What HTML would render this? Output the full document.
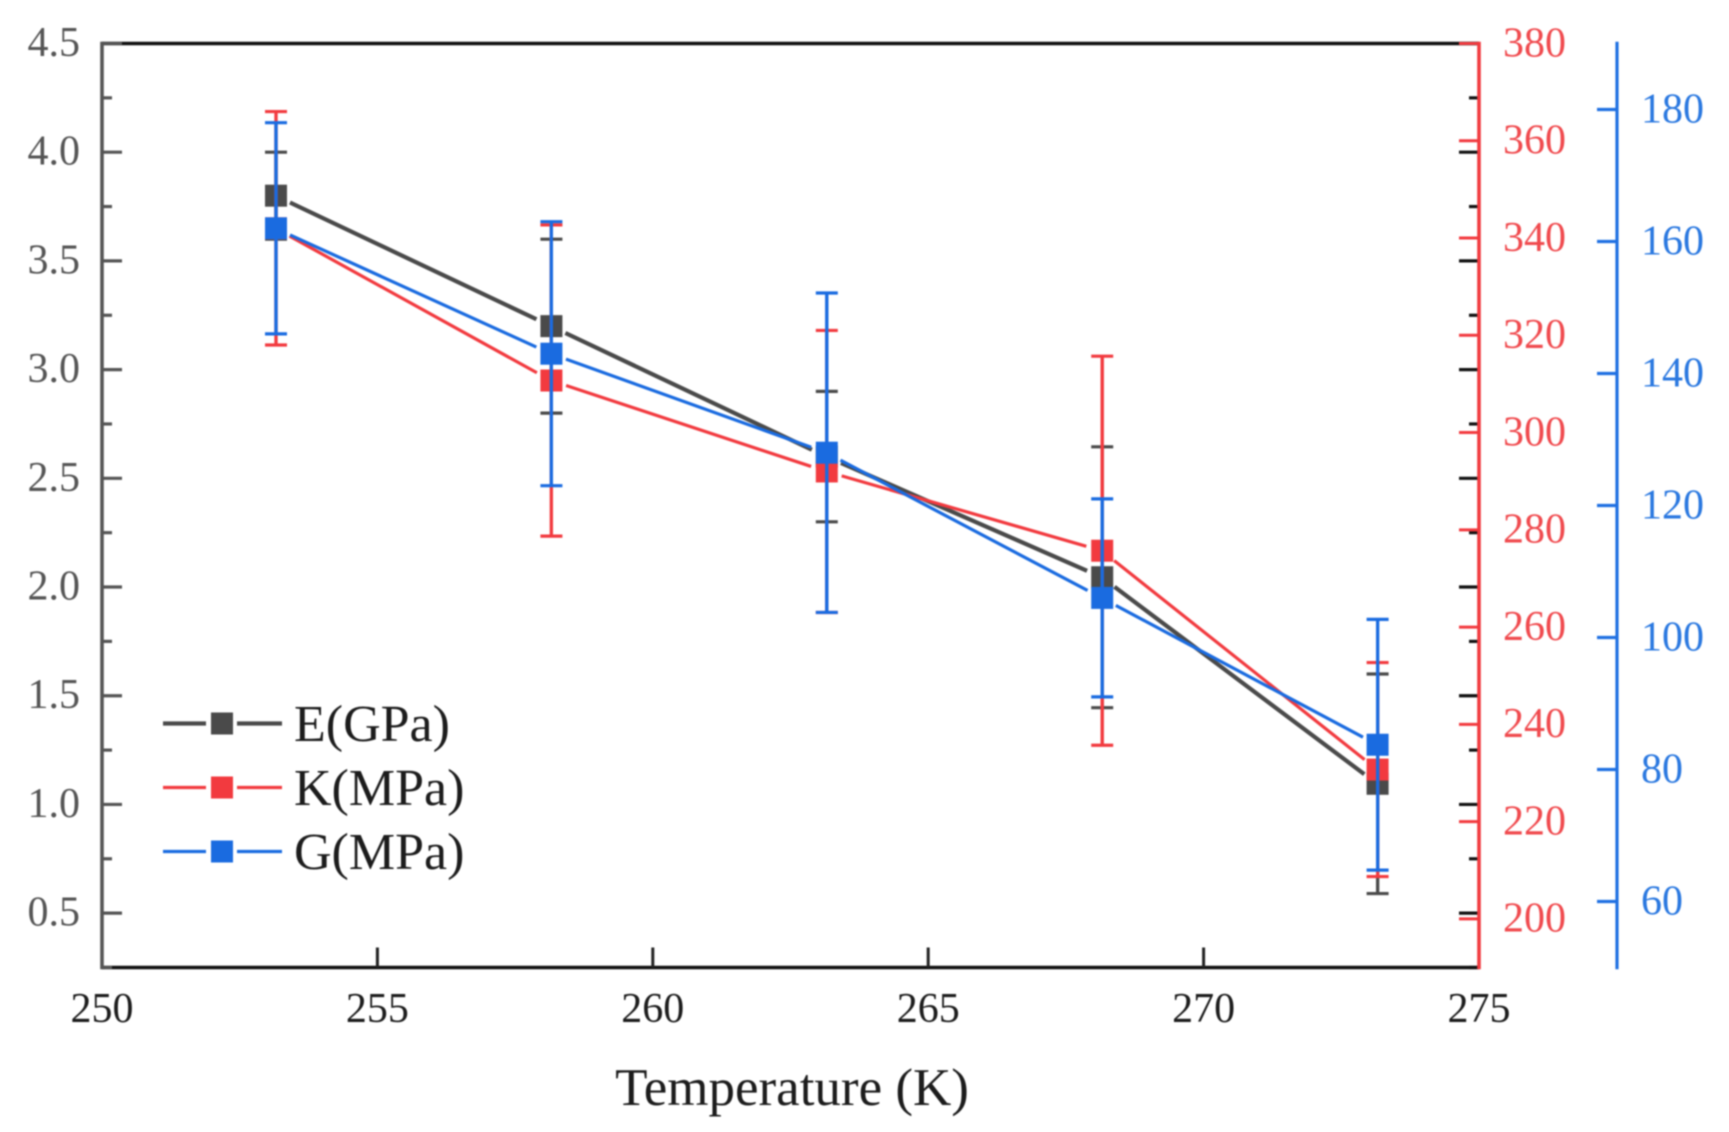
<!DOCTYPE html>
<html lang="en">
<head>
<meta charset="utf-8">
<title>Mechanical moduli versus temperature</title>
<style>
  html, body { margin: 0; padding: 0; background: #fff; }
  #chart { display: block; width: 1729px; height: 1132px; filter: blur(0.75px); }
  text { font-family: "Liberation Serif", serif; }
</style>
</head>
<body>
<svg id="chart" xmlns="http://www.w3.org/2000/svg" width="1729" height="1132" viewBox="0 0 1729 1132">
  <rect x="0" y="0" width="1729" height="1132" fill="#ffffff"/>
  <g id="axes"></g>
  <g id="marks"></g>
  <text x="792" y="1105" font-size="53" text-anchor="middle" fill="#1c1c1c">Temperature (K)</text>
  <g>
    <g>
      <line x1="163" y1="723.5" x2="206" y2="723.5" stroke="#4a4a4a" stroke-width="4.2"/>
      <line x1="237" y1="723.5" x2="282" y2="723.5" stroke="#4a4a4a" stroke-width="4.2"/>
      <rect x="211" y="712.5" width="22" height="22" fill="#4a4a4a"/>
      <text x="294" y="741" font-size="52" fill="#1c1c1c">E(GPa)</text>
    </g>
    <g>
      <line x1="163" y1="787.5" x2="206" y2="787.5" stroke="#f23a3f" stroke-width="3.2"/>
      <line x1="237" y1="787.5" x2="282" y2="787.5" stroke="#f23a3f" stroke-width="3.2"/>
      <rect x="211" y="776.5" width="22" height="22" fill="#f23a3f"/>
      <text x="294" y="805" font-size="52" fill="#1c1c1c">K(MPa)</text>
    </g>
    <g>
      <line x1="163" y1="851.5" x2="206" y2="851.5" stroke="#1a6be0" stroke-width="3.2"/>
      <line x1="237" y1="851.5" x2="282" y2="851.5" stroke="#1a6be0" stroke-width="3.2"/>
      <rect x="211" y="840.5" width="22" height="22" fill="#1a6be0"/>
      <text x="294" y="869" font-size="52" fill="#1c1c1c">G(MPa)</text>
    </g>
  </g>
</svg>
<script>
// ---- chart data ----
const temperatures = [253.15, 258.15, 263.15, 268.15, 273.15];
const valuesE = [3.8, 3.2, 2.6, 2.045, 1.095];
const errorsE = [0.2, 0.4, 0.3, 0.6, 0.505];
const valuesK = [342, 310.7, 292, 275.7, 230.7];
const errorsK = [24, 32, 29, 40, 22];
const valuesG = [162, 143, 128, 106, 83.75];
const errorsG = [16, 20, 24.2, 15, 19];
const xTickLabels = [250, 255, 260, 265, 270, 275];
const leftTickLabels = ['0.5', '1.0', '1.5', '2.0', '2.5', '3.0', '3.5', '4.0', '4.5'];
const leftMinorTicks = [0.25, 0.75, 1.25, 1.75, 2.25, 2.75, 3.25, 3.75, 4.25];
const redTickLabels = [200, 220, 240, 260, 280, 300, 320, 340, 360, 380];
const blueTickLabels = [60, 80, 100, 120, 140, 160, 180];

// ---- plot geometry and axis functions ----
const plotLeft = 102, plotRight = 1479, plotTop = 43.5, plotBottom = 967.5, blueAxisX = 1617;
const linear = (d0, d1, r0, r1) => v => r0 + (v - d0) * (r1 - r0) / (d1 - d0);
const xScale = linear(250, 275, plotLeft, plotRight);
const yE = linear(0.25, 4.5, plotBottom, plotTop);
const yK = linear(190, 380, plotBottom, plotTop);
const yG = linear(50, 190, plotBottom, plotTop);

const NS = 'http://www.w3.org/2000/svg';
const axesLayer = document.getElementById('axes');
const marksLayer = document.getElementById('marks');

function drawLine(parent, x1, y1, x2, y2, stroke, width) {
  const el = document.createElementNS(NS, 'line');
  el.setAttribute('x1', x1);
  el.setAttribute('y1', y1);
  el.setAttribute('x2', x2);
  el.setAttribute('y2', y2);
  el.setAttribute('stroke', stroke);
  el.setAttribute('stroke-width', width);
  parent.appendChild(el);
  return el;
}

function drawText(parent, x, y, content, fill, anchor) {
  const el = document.createElementNS(NS, 'text');
  el.setAttribute('x', x);
  el.setAttribute('y', y);
  el.setAttribute('font-size', 42);
  el.setAttribute('fill', fill);
  el.setAttribute('text-anchor', anchor);
  el.textContent = content;
  parent.appendChild(el);
  return el;
}

let el;
const GREY = '#555555', BLACK = '#111111', RED = '#f23a3f', BLUE = '#1f70e2';
const RED_TEXT = '#f04a4e', BLUE_TEXT = '#2a78e0';

// ---- frame ----
el = drawLine(axesLayer, plotLeft, plotTop, plotRight, plotTop, BLACK, 3.4);


el = drawLine(axesLayer, plotLeft, plotBottom, plotRight, plotBottom, BLACK, 3.4);



// ---- x axis ----
xTickLabels.forEach(t => {
  if (t !== 250 && t !== 275) {
    el = drawLine(axesLayer, xScale(t), plotBottom, xScale(t), plotBottom - 20, '#222222', 3);
    
    
  }
  el = drawText(axesLayer, xScale(t), 1022, String(t), '#1c1c1c', 'middle');
  
  
});

// ---- right-side mirror ticks of the E axis ----
leftTickLabels.forEach(t => {
  el = drawLine(axesLayer, plotRight - 20, yE(+t), plotRight, yE(+t), BLACK, 3.2);
  
  
});
leftMinorTicks.forEach(t => {
  el = drawLine(axesLayer, plotRight - 10, yE(t), plotRight, yE(t), BLACK, 3.2);
  
  
});

// ---- left axis (E) ----
leftTickLabels.forEach(t => {
  el = drawLine(axesLayer, plotLeft, yE(+t), plotLeft + 20, yE(+t), GREY, 3.2);
  
  
  el = drawText(axesLayer, 80, yE(+t) + 12.5, t, GREY, 'end');
  
  
});
leftMinorTicks.forEach(t => {
  el = drawLine(axesLayer, plotLeft, yE(t), plotLeft + 10, yE(t), GREY, 3.2);
  
  
});
el = drawLine(axesLayer, plotLeft, plotTop - 1.7, plotLeft, plotBottom + 1.7, GREY, 3.6);



// ---- red axis (K) ----
redTickLabels.forEach(t => {
  el = drawLine(axesLayer, plotRight - 20, yK(t), plotRight, yK(t), RED, 3);
  
  
  el = drawText(axesLayer, 1503, yK(t) + 12.8, String(t), RED_TEXT, 'start');
  
  
});
el = drawLine(axesLayer, plotRight, plotTop - 1.7, plotRight, plotBottom + 1.7, RED, 3.6);



// ---- blue axis (G) ----
blueTickLabels.forEach(t => {
  el = drawLine(axesLayer, blueAxisX - 20, yG(t), blueAxisX, yG(t), BLUE, 3.2);
  
  
  el = drawText(axesLayer, 1641, yG(t) + 13, String(t), BLUE_TEXT, 'start');
  
  
});
el = drawLine(axesLayer, blueAxisX, plotTop - 1.7, blueAxisX, plotBottom + 1.7, BLUE, 3.2);



// ---- data series ----
function drawSeries(key, values, errors, yScale, color, lineWidth) {
  const group = document.createElementNS(NS, 'g');
  
  
  marksLayer.appendChild(group);

  const gap = 16;
  for (let i = 0; i + 1 < values.length; i++) {
    const x1 = xScale(temperatures[i]), y1 = yScale(values[i]);
    const x2 = xScale(temperatures[i + 1]), y2 = yScale(values[i + 1]);
    const len = Math.hypot(x2 - x1, y2 - y1);
    const ux = (x2 - x1) / len, uy = (y2 - y1) / len;
    const seg = drawLine(group, x1 + ux * gap, y1 + uy * gap, x2 - ux * gap, y2 - uy * gap, color, lineWidth);
    
    
  }

  values.forEach((v, i) => {
    const x = xScale(temperatures[i]) + 0.5;
    const top = yScale(v + errors[i]), bottom = yScale(v - errors[i]);
    const bar = drawLine(group, x, top, x, bottom, color, 3.2);
    
    
    const capTop = drawLine(group, x - 11, top, x + 11, top, color, 3.2);
    
    
    const capBottom = drawLine(group, x - 11, bottom, x + 11, bottom, color, 3.2);
    
    
    const marker = document.createElementNS(NS, 'rect');
    marker.setAttribute('x', x - 11);
    marker.setAttribute('y', yScale(v) - 11);
    marker.setAttribute('width', 22);
    marker.setAttribute('height', 22);
    marker.setAttribute('fill', color);
    
    
    group.appendChild(marker);
    const through = drawLine(group, x, top, x, bottom, color, 3.2);
    
    
  });
}

drawSeries('e', valuesE, errorsE, yE, '#4a4a4a', 4.2);
drawSeries('k', valuesK, errorsK, yK, '#f23a3f', 3.2);
drawSeries('g', valuesG, errorsG, yG, '#1a6be0', 3.2);
</script>
</body>
</html>
